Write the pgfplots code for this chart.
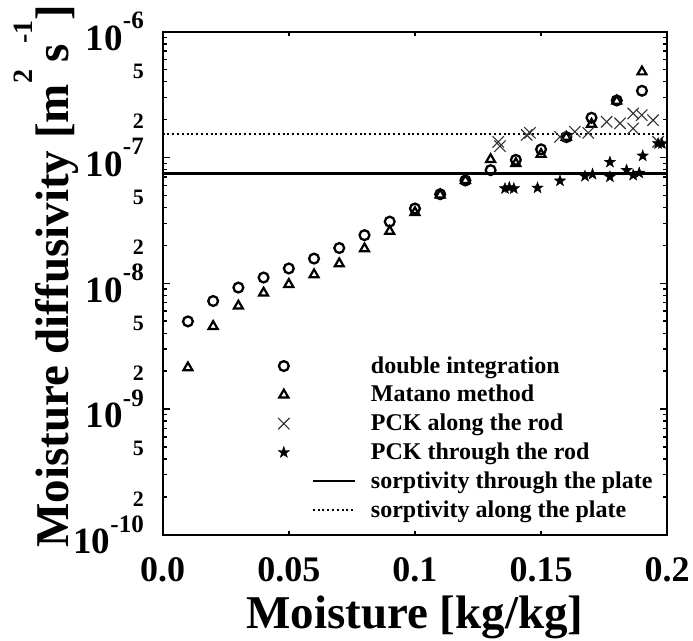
\documentclass[border=0pt]{standalone}
\usepackage{fontspec}
\setmainfont{Liberation Serif}
\usepackage{pgfplots}
\usepackage{pgfplotstable}
\pgfplotsset{compat=1.18}
\newcommand\fs[1]{\fontsize{#1}{#1}\selectfont}
\newcommand\ytl[1]{\fs{37}10\raisebox{21.7pt}{\fs{25}-#1}}
\pgfdeclareplotmark{fstar}{%
  \pgfpathmoveto{\pgfpointpolar{90}{\pgfplotmarksize}}%
  \pgfpathlineto{\pgfpointpolar{126}{0.4\pgfplotmarksize}}%
  \pgfpathlineto{\pgfpointpolar{162}{\pgfplotmarksize}}%
  \pgfpathlineto{\pgfpointpolar{198}{0.4\pgfplotmarksize}}%
  \pgfpathlineto{\pgfpointpolar{234}{\pgfplotmarksize}}%
  \pgfpathlineto{\pgfpointpolar{270}{0.4\pgfplotmarksize}}%
  \pgfpathlineto{\pgfpointpolar{306}{\pgfplotmarksize}}%
  \pgfpathlineto{\pgfpointpolar{342}{0.4\pgfplotmarksize}}%
  \pgfpathlineto{\pgfpointpolar{18}{\pgfplotmarksize}}%
  \pgfpathlineto{\pgfpointpolar{54}{0.4\pgfplotmarksize}}%
  \pgfpathclose
  \pgfusepathqfillstroke}
\pgfplotsset{
  marklegend/.style={legend image code/.code={\draw[##1] plot coordinates {(0pt,0pt)};}},
  linelegend/.style={legend image code/.code={\draw[##1] (29pt,0pt) -- (71pt,0pt);}},
}

\pgfplotstableread{
x y
0.01 4.97e-9
0.02 7.22e-9
0.03 9.23e-9
0.04 1.11e-8
0.05 1.31e-8
0.06 1.57e-8
0.07 1.905e-8
0.08 2.41e-8
0.09 3.09e-8
0.10 3.93e-8
0.11 5.10e-8
0.12 6.56e-8
0.13 7.93e-8
0.14 9.57e-8
0.15 1.16e-7
0.16 1.45e-7
0.17 2.07e-7
0.18 2.84e-7
0.19 3.39e-7
}\doubleint

\pgfplotstableread{
x y
0.01 2.13e-9
0.02 4.54e-9
0.03 6.59e-9
0.04 8.36e-9
0.05 9.80e-9
0.06 1.17e-8
0.07 1.43e-8
0.08 1.88e-8
0.09 2.59e-8
0.10 3.65e-8
0.11 5.04e-8
0.12 6.56e-8
0.13 9.64e-8
0.14 8.95e-8
0.15 1.06e-7
0.16 1.45e-7
0.17 1.84e-7
0.18 2.81e-7
0.19 4.80e-7
}\matano

\pgfplotstableread{
x y
0.1330 1.33e-7
0.1337 1.23e-7
0.1443 1.51e-7
0.1456 1.57e-7
0.1575 1.46e-7
0.1634 1.60e-7
0.1687 1.57e-7
0.1760 1.92e-7
0.1813 1.87e-7
0.1865 2.24e-7
0.1865 1.70e-7
0.1899 2.17e-7
0.1944 1.98e-7
0.1964 1.33e-7
}\pckalong

\pgfplotstableread{
x y
0.1357 5.66e-8
0.1374 5.77e-8
0.1392 5.66e-8
0.1486 5.73e-8
0.1575 6.52e-8
0.1674 7.10e-8
0.1704 7.36e-8
0.1773 9.18e-8
0.1773 7.02e-8
0.1839 7.93e-8
0.1865 7.23e-8
0.1889 7.53e-8
0.1903 1.03e-7
0.1964 1.29e-7
0.1979 1.29e-7
}\pckthrough

\begin{document}
\begin{tikzpicture}
\begin{axis}[
  at={(0pt,0pt)}, anchor=south west,
  scale only axis, width=504.5pt, height=503pt,
  xmin=0, xmax=0.2, ymode=log, ymin=1e-10, ymax=1e-6,
  clip=false,
  font=\bfseries,
  axis line style={line width=2.2pt},
  tick style={line width=1.4pt, black},
  major tick length=7pt, minor tick length=4pt,
  xtick pos=both, ytick pos=both,
  xticklabel pos=lower, yticklabel pos=left,
  xtick={0,0.05,0.1,0.15,0.2},
  xticklabels={0.0,0.05,0.1,0.15,0.2},
  major x tick style={draw=none},
  minor xtick={0.05,0.1,0.15},
  xticklabel style={inner sep=0pt, yshift=-22.6pt, font=\bfseries\fs{36}},
  ytick={1e-10,1e-9,1e-8,1e-7,1e-6},
  yticklabels={\ytl{10},\ytl{9},\ytl{8},\ytl{7},\ytl{6}},
  minor ytick={2e-10,3e-10,4e-10,5e-10,6e-10,7e-10,8e-10,9e-10,
    2e-9,3e-9,4e-9,5e-9,6e-9,7e-9,8e-9,9e-9,
    2e-8,3e-8,4e-8,5e-8,6e-8,7e-8,8e-8,9e-8,
    2e-7,3e-7,4e-7,5e-7,6e-7,7e-7,8e-7,9e-7},
  yticklabel style={inner sep=0pt, xshift=-18.7pt},
  extra y ticks={2e-10,5e-10,2e-9,5e-9,2e-8,5e-8,2e-7,5e-7},
  extra y tick labels={2,5,2,5,2,5,2,5},
  extra y tick style={tick style={draw=none},
    yticklabel style={font=\bfseries\fs{22}, yshift=-2pt}},
  xlabel={Moisture [kg/kg]},
  xlabel style={at={(axis description cs:0.5,0)}, anchor=base,
    yshift=-93.6pt, font=\bfseries\fs{47}, inner sep=0pt},
  ylabel={Moisture diffusivity [m\raisebox{36pt}{\fs{28}2}\,s\raisebox{36pt}{\fs{28}-1}]},
  ylabel style={at={(axis description cs:-0.1871,0.5137)}, anchor=base,
    font=\bfseries\fs{47}, inner sep=0pt},
  legend cell align=left,
  legend style={draw=none, fill=none, inner sep=0pt, outer sep=0pt,
    at={(0.2288,0.3592)}, anchor=north west,
    row sep=4.8pt, column sep=15pt, font=\bfseries\fs{24},
    nodes={inner sep=0pt, text height=19pt, text depth=5pt}},
]
\addplot[black, only marks, mark=o, mark size=4.9pt,
  line width=2.3pt, marklegend]
  table[x=x,y=y] {\doubleint};
\addlegendentry{double integration}
\addplot[black, only marks, mark=triangle, mark size=5.2pt,
  line width=2.2pt, marklegend]
  table[x=x,y=y] {\matano};
\addlegendentry{Matano method}
\addplot[black!80, only marks, mark=x, mark size=8pt,
  line width=1.1pt, marklegend]
  table[x=x,y=y] {\pckalong};
\addlegendentry{PCK along the rod}
\addplot[black, only marks, mark=fstar, mark size=6pt,
  line width=0.4pt, mark options={fill=black}, marklegend]
  table[x=x,y=y] {\pckthrough};
\addlegendentry{PCK through the rod}
\addplot[black, line width=2.3pt, mark=none, linelegend]
  coordinates {(0,7.46e-8) (0.2,7.46e-8)};
\addlegendentry{sorptivity through the plate}
\addplot[black, line width=2pt, dash pattern=on 2pt off 2.8pt, mark=none, linelegend]
  coordinates {(0,1.54e-7) (0.2,1.54e-7)};
\addlegendentry{sorptivity along the plate}
\end{axis}
\pgfresetboundingbox
\useasboundingbox (-162.7pt,-105.3pt) rectangle (530.3pt,534.7pt);
\end{tikzpicture}
\end{document}
